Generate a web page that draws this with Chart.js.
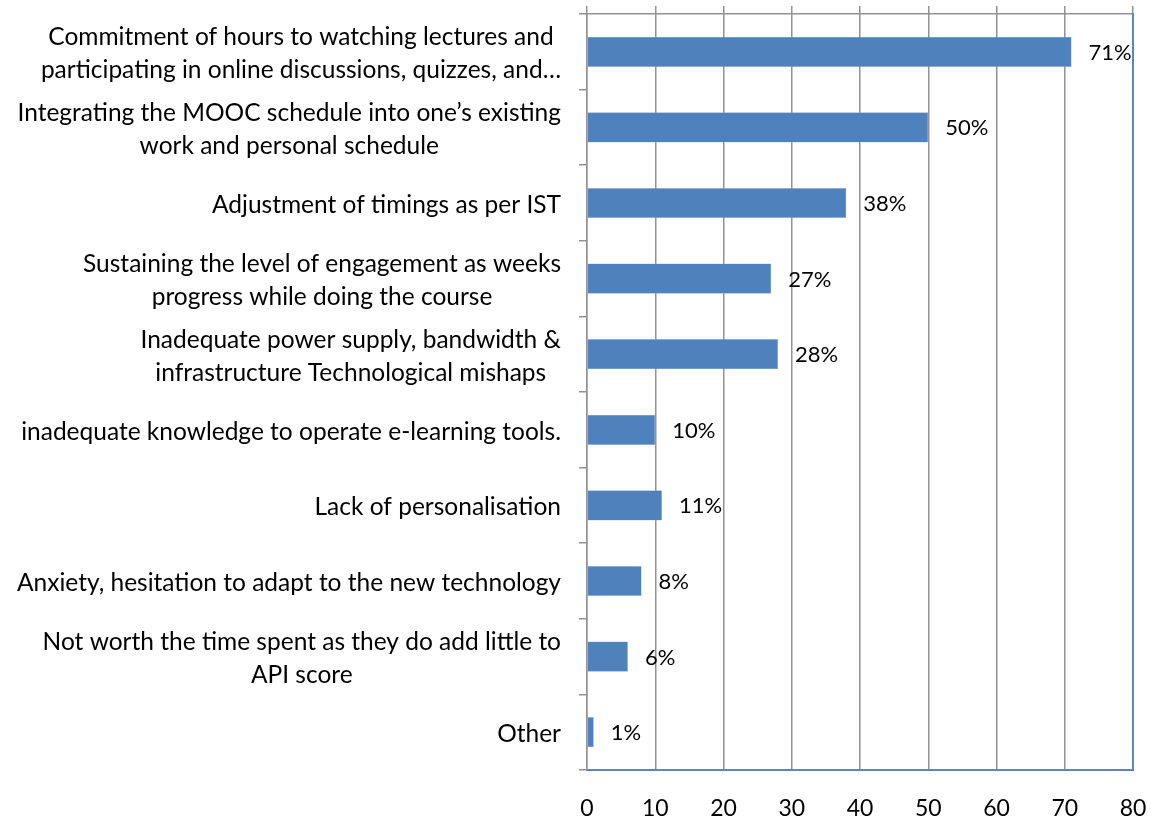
<!DOCTYPE html>
<html>
<head>
  <title>MOOC challenges</title>
  <meta charset="utf-8" />
  <style>
    html, body { margin: 0; padding: 0; background: #fff; }
    #wrap { width: 1157px; height: 820px; }
  </style>
</head>
<body>
  <div id="wrap"><canvas id="chart-canvas"></canvas></div>

  <script src="https://cdn.jsdelivr.net/npm/chart.js"></script>
  <script>
    const categories = [
      ['Commitment of hours to watching lectures and', 'participating in online discussions, quizzes, and…'],
      ['Integrating the MOOC schedule into one’s existing', 'work and personal schedule'],
      ['Adjustment of timings as per IST'],
      ['Sustaining the level of engagement as weeks', 'progress while doing the course'],
      ['Inadequate power supply, bandwidth &', 'infrastructure Technological mishaps'],
      ['inadequate knowledge to operate e-learning tools.'],
      ['Lack of personalisation'],
      ['Anxiety, hesitation to adapt to the new technology'],
      ['Not worth the time spent as they do add little to', 'API score'],
      ['Other']
    ];
    const values = [71, 50, 38, 27, 28, 10, 11, 8, 6, 1];
    const valueLabels = ['71%', '50%', '38%', '27%', '28%', '10%', '11%', '8%', '6%', '1%'];
    const xTicks = [0, 10, 20, 30, 40, 50, 60, 70, 80];

    const FONT = 'Lato, "Open Sans", sans-serif';
    const gridGray = '#929292';
    const axisBlue = '#5b87c0';

    // category labels: block right-aligned, lines centred within the block
    const catLabels = {
      id: 'catLabels',
      afterDraw(chart) {
        const ctx = chart.ctx;
        const y = chart.scales.y;
        ctx.save();
        ctx.font = '24.5px ' + FONT;
        ctx.fillStyle = '#000';
        ctx.textAlign = 'center';
        ctx.textBaseline = 'middle';
        const right = 561, lh = 33;
        categories.forEach((lines, i) => {
          const w = Math.max(...lines.map(l => ctx.measureText(l).width));
          const cx = right - w / 2;
          const cy = y.getPixelForTick(i);
          const top = cy - (lines.length - 1) * lh / 2 + 2;
          lines.forEach((l, k) => ctx.fillText(l, cx, top + k * lh));
        });
        ctx.restore();
      }
    };

    const valueText = {
      id: 'valueText',
      afterDatasetsDraw(chart) {
        const ctx = chart.ctx;
        const meta = chart.getDatasetMeta(0);
        ctx.save();
        ctx.font = '22px ' + FONT;
        ctx.fillStyle = '#000';
        ctx.textAlign = 'left';
        ctx.textBaseline = 'middle';
        meta.data.forEach((bar, i) => {
          ctx.fillText(valueLabels[i], bar.x + 17, bar.y + 1);
        });
        ctx.restore();
      }
    };

    new Chart(document.getElementById('chart-canvas'), {
      type: 'bar',
      data: {
        labels: categories.map(c => c.join(' ')),
        datasets: [{
          data: values,
          backgroundColor: '#4f81bd',
          borderColor: '#9ab5d9',
          borderWidth: 0.5,
          categoryPercentage: 1,
          barPercentage: 0.4
        }]
      },
      options: {
        indexAxis: 'y',
        responsive: true,
        maintainAspectRatio: false,
        animation: false,
        layout: { padding: { left: 0, right: 24, top: 0, bottom: 0 } },
        plugins: { legend: { display: false }, tooltip: { enabled: false } },
        scales: {
          x: {
            position: 'bottom',
            min: 0, max: 80,
            afterBuildTicks: s => { s.ticks = xTicks.map(v => ({ value: v })); },
            afterFit: s => { s.height = 50; s.paddingLeft = 13; s.paddingRight = 13; },
            border: { color: axisBlue, width: 2 },
            grid: { color: gridGray, lineWidth: 1.5, drawTicks: false },
            ticks: { color: '#000', font: { family: FONT, size: 23 }, padding: 25 }
          },
          xTop: {
            axis: 'x',
            position: 'top',
            min: 0, max: 80,
            afterBuildTicks: s => { s.ticks = xTicks.map(v => ({ value: v })); },
            afterFit: s => { s.height = 14; },
            border: { color: gridGray, width: 1.5 },
            grid: { color: gridGray, lineWidth: 1.5, drawOnChartArea: false, tickLength: 8 },
            ticks: { display: false }
          },
          y: {
            position: 'left',
            offset: true,
            afterFit: s => { s.width = 587; },
            border: { color: gridGray, width: 1.5 },
            grid: { offset: true, color: gridGray, lineWidth: 1.5, drawOnChartArea: false, tickLength: 8 },
            ticks: { display: false }
          },
          yRight: {
            axis: 'y',
            position: 'right',
            afterFit: s => { s.width = 0; },
            border: { color: axisBlue, width: 2 },
            grid: { display: false },
            ticks: { display: false }
          }
        }
      },
      plugins: [catLabels, valueText]
    });
  </script>
</body>
</html>
